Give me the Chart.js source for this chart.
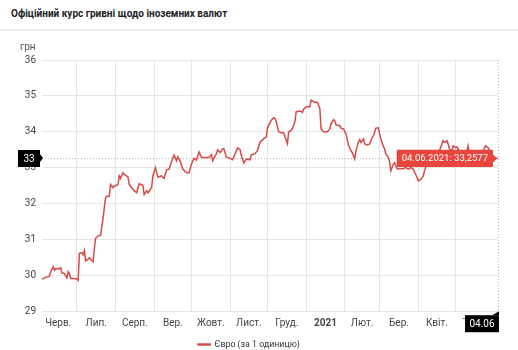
<!DOCTYPE html>
<html lang="uk">
<head>
<meta charset="utf-8">
<title>Офіційний курс гривні щодо іноземних валют</title>
<script src="https://cdn.jsdelivr.net/npm/chart.js@4/dist/chart.umd.min.js"></script>
<style>
  html, body { margin: 0; padding: 0; background: #fff; }
  body { width: 518px; height: 350px; position: relative; overflow: hidden; font-family: Roboto, sans-serif; }
  .head { position: absolute; left: 11px; top: 8px; font-size: 10px; font-weight: bold; color: #222; white-space: nowrap; }
  .sep { position: absolute; left: 0; right: 0; top: 29px; height: 2px; background: #ededed; }
  #box { position: absolute; left: 0; top: 0; width: 518px; height: 359px; }
</style>
</head>
<body>
<div class="head">Офіційний курс гривні щодо іноземних валют</div>
<div class="sep"></div>
<div id="box"><canvas id="rateChart"></canvas></div>
<script>
const seriesLabel = 'Євро (за 1 одиницю)';
const unitLabel = 'грн';

const monthStarts = ['2020-06-01', '2020-07-01', '2020-08-01', '2020-09-01', '2020-10-01', '2020-11-01',
  '2020-12-01', '2021-01-01', '2021-02-01', '2021-03-01', '2021-04-01', '2021-05-01', '2021-06-01'];
const monthLabels = ['Черв.', 'Лип.', 'Серп.', 'Вер.', 'Жовт.', 'Лист.', 'Груд.', '2021', 'Лют.', 'Бер.', 'Квіт.', 'Трав.'];
const yTicks = [29, 30, 31, 32, 33, 34, 35, 36];

const rateDates = [
  '2020-06-03', '2020-06-06', '2020-06-08', '2020-06-09', '2020-06-10', '2020-06-12', '2020-06-13', '2020-06-14',
  '2020-06-16', '2020-06-18', '2020-06-19', '2020-06-21', '2020-06-23', '2020-06-24', '2020-06-25', '2020-06-26',
  '2020-06-29', '2020-07-01', '2020-07-02', '2020-07-03', '2020-07-05', '2020-07-06', '2020-07-07', '2020-07-08',
  '2020-07-10', '2020-07-11', '2020-07-12', '2020-07-14', '2020-07-15', '2020-07-16', '2020-07-18', '2020-07-20',
  '2020-07-22', '2020-07-23', '2020-07-24', '2020-07-25', '2020-07-27', '2020-07-28', '2020-07-30', '2020-07-31',
  '2020-08-02', '2020-08-03', '2020-08-04', '2020-08-05', '2020-08-07', '2020-08-08', '2020-08-11', '2020-08-12',
  '2020-08-14', '2020-08-16', '2020-08-18', '2020-08-20', '2020-08-23', '2020-08-24', '2020-08-26', '2020-08-27',
  '2020-08-30', '2020-08-31', '2020-09-02', '2020-09-04', '2020-09-07', '2020-09-09', '2020-09-11', '2020-09-13',
  '2020-09-15', '2020-09-17', '2020-09-19', '2020-09-20', '2020-09-22', '2020-09-24', '2020-09-27', '2020-09-29',
  '2020-10-01', '2020-10-03', '2020-10-05', '2020-10-07', '2020-10-09', '2020-10-12', '2020-10-15', '2020-10-17',
  '2020-10-18', '2020-10-21', '2020-10-22', '2020-10-24', '2020-10-26', '2020-10-27', '2020-10-29', '2020-11-01',
  '2020-11-03', '2020-11-05', '2020-11-07', '2020-11-09', '2020-11-10', '2020-11-12', '2020-11-14', '2020-11-17',
  '2020-11-18', '2020-11-21', '2020-11-23', '2020-11-25', '2020-11-28', '2020-11-30', '2020-12-01', '2020-12-04',
  '2020-12-06', '2020-12-07', '2020-12-08', '2020-12-10', '2020-12-12', '2020-12-14', '2020-12-15', '2020-12-17',
  '2020-12-18', '2020-12-20', '2020-12-21', '2020-12-23', '2020-12-24', '2020-12-27', '2020-12-29', '2020-12-30',
  '2021-01-01', '2021-01-04', '2021-01-05', '2021-01-07', '2021-01-08', '2021-01-10', '2021-01-12', '2021-01-13',
  '2021-01-15', '2021-01-18', '2021-01-20', '2021-01-21', '2021-01-23', '2021-01-24', '2021-01-25', '2021-01-28',
  '2021-01-29', '2021-01-31', '2021-02-02', '2021-02-04', '2021-02-06', '2021-02-07', '2021-02-09', '2021-02-10',
  '2021-02-12', '2021-02-13', '2021-02-14', '2021-02-16', '2021-02-17', '2021-02-19', '2021-02-21', '2021-02-23',
  '2021-02-24', '2021-02-26', '2021-02-28', '2021-03-01', '2021-03-02', '2021-03-04', '2021-03-05', '2021-03-06',
  '2021-03-08', '2021-03-09', '2021-03-10', '2021-03-12', '2021-03-13', '2021-03-15', '2021-03-18', '2021-03-20',
  '2021-03-22', '2021-03-24', '2021-03-26', '2021-03-28', '2021-03-30', '2021-04-01', '2021-04-03', '2021-04-05',
  '2021-04-06', '2021-04-08', '2021-04-11', '2021-04-14', '2021-04-18', '2021-04-20', '2021-04-21', '2021-04-22',
  '2021-04-24', '2021-04-25', '2021-04-26', '2021-04-28', '2021-04-29', '2021-05-01', '2021-05-02', '2021-05-03',
  '2021-05-05', '2021-05-07', '2021-05-09', '2021-05-11', '2021-05-12', '2021-05-15', '2021-05-17', '2021-05-20',
  '2021-05-23', '2021-05-25', '2021-05-27', '2021-05-29', '2021-05-31', '2021-06-01', '2021-06-04'
];

const euroRates = [
  29.89, 29.95, 29.96, 29.98, 30.10, 30.24, 30.14, 30.19,
  30.18, 30.21, 30.07, 30.05, 29.93, 30.10, 30.05, 29.91,
  29.91, 29.89, 29.86, 30.61, 30.63, 30.57, 30.69, 30.40,
  30.45, 30.49, 30.45, 30.38, 30.72, 31.03, 31.10, 31.11,
  31.59, 31.88, 32.16, 32.20, 32.20, 32.53, 32.44, 32.49,
  32.51, 32.53, 32.77, 32.70, 32.86, 32.81, 32.74, 32.53,
  32.44, 32.36, 32.30, 32.55, 32.51, 32.25, 32.36, 32.30,
  32.44, 32.77, 33.00, 32.74, 32.77, 32.70, 32.93, 32.96,
  33.17, 33.35, 33.19, 33.30, 33.17, 32.96, 32.86, 32.86,
  33.10, 33.26, 33.21, 33.44, 33.28, 33.28, 33.28, 33.36,
  33.19, 33.39, 33.50, 33.42, 33.52, 33.53, 33.29, 33.26,
  33.22, 33.39, 33.55, 33.50, 33.34, 33.13, 33.24, 33.22,
  33.36, 33.39, 33.48, 33.71, 33.81, 33.86, 34.11, 34.32,
  34.39, 34.37, 34.28, 34.00, 33.97, 33.97, 33.86, 33.67,
  34.00, 34.04, 34.09, 34.28, 34.56, 34.58, 34.54, 34.63,
  34.70, 34.70, 34.88, 34.84, 34.82, 34.82, 34.65, 34.08,
  34.00, 34.00, 34.08, 34.22, 34.34, 34.31, 34.19, 34.17,
  34.10, 34.08, 33.94, 33.63, 33.47, 33.42, 33.24, 33.47,
  33.72, 33.78, 33.70, 33.80, 33.66, 33.63, 33.66, 33.84,
  33.89, 34.10, 34.11, 33.94, 33.80, 33.59, 33.52, 33.38,
  33.28, 33.16, 32.91, 33.10, 33.14, 32.97, 32.97, 32.97,
  33.00, 32.96, 33.00, 32.96, 32.81, 32.63, 32.67, 32.77,
  32.91, 33.10, 33.26, 33.35, 33.47, 33.66, 33.75, 33.70,
  33.75, 33.66, 33.52, 33.47, 33.61, 33.56, 33.58, 33.52,
  33.42, 33.33, 33.33, 33.61, 33.38, 33.42, 33.42, 33.47,
  33.47, 33.61, 33.56, 33.42, 33.33, 33.28, 33.2577
];

// day numbers counted from the first month start, so the x axis stays linear
const DAY_MS = 86400000;
const origin = Date.parse(monthStarts[0] + 'T00:00:00Z');
const dayOf = (s) => Math.round((Date.parse(s + 'T00:00:00Z') - origin) / DAY_MS);

const points = rateDates.map((d, i) => ({ x: dayOf(d), y: euroRates[i] }));
const gridDays = monthStarts.slice(1, -1).map(dayOf);
const labelDays = monthLabels.map((_, i) => (dayOf(monthStarts[i]) + dayOf(monthStarts[i + 1])) / 2);
const lastIdx = rateDates.length - 1;
const lastDate = rateDates[lastIdx];
const lastRate = euroRates[lastIdx];

const shortDate = (s) => s.slice(8, 10) + '.' + s.slice(5, 7);
const fullDate = (s) => shortDate(s) + '.' + s.slice(0, 4);
const FONT = 'Roboto, sans-serif';

const crosshair = {
  id: 'crosshair',
  beforeDatasetsDraw(chart) {
    const { ctx, chartArea: a, scales: { x, y } } = chart;
    const px = Math.round(x.getPixelForValue(dayOf(lastDate))) + 0.5;
    const py = Math.round(y.getPixelForValue(lastRate)) + 0.5;
    ctx.save();
    ctx.strokeStyle = '#b4b4b4';
    ctx.lineWidth = 1;
    ctx.setLineDash([1, 2]);
    ctx.beginPath();
    ctx.moveTo(a.left, py); ctx.lineTo(a.right, py);
    ctx.moveTo(px, a.top); ctx.lineTo(px, a.bottom);
    ctx.stroke();
    ctx.restore();
  },
  afterDatasetsDraw(chart) {
    const { ctx, chartArea: a, scales: { x, y } } = chart;
    const px = Math.round(x.getPixelForValue(dayOf(lastDate)));
    const py = Math.round(y.getPixelForValue(lastRate));
    ctx.save();
    ctx.font = '10px ' + FONT;
    ctx.fillStyle = '#555';
    ctx.textAlign = 'left';
    ctx.textBaseline = 'middle';
    ctx.fillText(unitLabel, 20, a.top - 13);

    // value marker on the y axis
    ctx.font = '10px ' + FONT;
    ctx.fillStyle = '#000';
    ctx.fillRect(18, py - 8, 22, 17);
    ctx.beginPath();
    ctx.moveTo(40, py - 4); ctx.lineTo(43, py); ctx.lineTo(40, py + 4);
    ctx.fill();
    ctx.fillStyle = '#fff';
    ctx.textAlign = 'center';
    ctx.fillText(String(Math.trunc(lastRate)), 29, py + 1);

    // date marker on the x axis
    ctx.fillStyle = '#000';
    ctx.fillRect(px - 33, a.bottom + 4, 34, 17);
    ctx.beginPath();
    ctx.moveTo(px - 6, a.bottom + 4); ctx.lineTo(px + 1, a.bottom); ctx.lineTo(px + 1, a.bottom + 4);
    ctx.fill();
    ctx.fillStyle = '#fff';
    ctx.fillText(shortDate(lastDate), px - 16, a.bottom + 13);
    ctx.restore();
  }
};

const chart = new Chart(document.getElementById('rateChart'), {
  type: 'line',
  data: {
    datasets: [{
      label: seriesLabel,
      data: points,
      borderColor: '#d64b45',
      backgroundColor: '#d64b45',
      borderWidth: 1.5,
      pointRadius: 0,
      pointHoverRadius: 0,
      tension: 0,
    }],
  },
  options: {
    responsive: true,
    maintainAspectRatio: false,
    animation: false,
    events: [],
    layout: { padding: { top: 60, right: 20, left: 0, bottom: 0 } },
    scales: {
      x: {
        type: 'linear',
        min: dayOf(rateDates[0]),
        max: dayOf(lastDate),
        afterBuildTicks: (scale) => {
          scale.ticks = [...gridDays, ...labelDays].sort((p, q) => p - q).map((v) => ({ value: v }));
        },
        afterFit: (scale) => { scale.height = 29; },
        border: { display: false },
        grid: {
          drawTicks: false,
          color: (c) => (c.tick && gridDays.includes(c.tick.value) ? '#e6e6e6' : 'rgba(0,0,0,0)'),
        },
        ticks: {
          autoSkip: false,
          maxRotation: 0,
          padding: 6,
          color: '#444',
          font: (c) => ({ family: FONT, size: 10, weight: c.tick && c.tick.value === labelDays[monthLabels.indexOf('2021')] ? 'bold' : 'normal' }),
          callback: (v) => {
            const i = labelDays.indexOf(v);
            return i >= 0 ? monthLabels[i] : '';
          },
        },
      },
      y: {
        min: yTicks[0],
        max: yTicks[yTicks.length - 1],
        afterFit: (scale) => { scale.width = 42; },
        border: { display: false },
        grid: { drawTicks: false, color: '#e6e6e6' },
        ticks: { stepSize: 1, padding: 6, color: '#444', font: { family: FONT, size: 10 } },
      },
    },
    plugins: {
      legend: {
        position: 'bottom',
        labels: { boxWidth: 12, boxHeight: 1, padding: 0, color: '#333', font: { family: FONT, size: 8.8 } },
      },
      tooltip: {
        backgroundColor: '#e8463c',
        displayColors: false,
        xAlign: 'right',
        yAlign: 'center',
        caretSize: 4,
        caretPadding: 1,
        cornerRadius: 1,
        padding: { left: 5, right: 5, top: 3, bottom: 3 },
        bodyColor: '#fff',
        bodyFont: { family: FONT, size: 9.5 },
        callbacks: {
          title: () => [],
          label: (c) => fullDate(rateDates[c.dataIndex]) + ': ' + c.parsed.y.toFixed(4).replace('.', ','),
        },
      },
    },
  },
  plugins: [crosshair],
});

chart.tooltip.setActiveElements([{ datasetIndex: 0, index: lastIdx }], { x: 0, y: 0 });
chart.update();
</script>
</body>
</html>
